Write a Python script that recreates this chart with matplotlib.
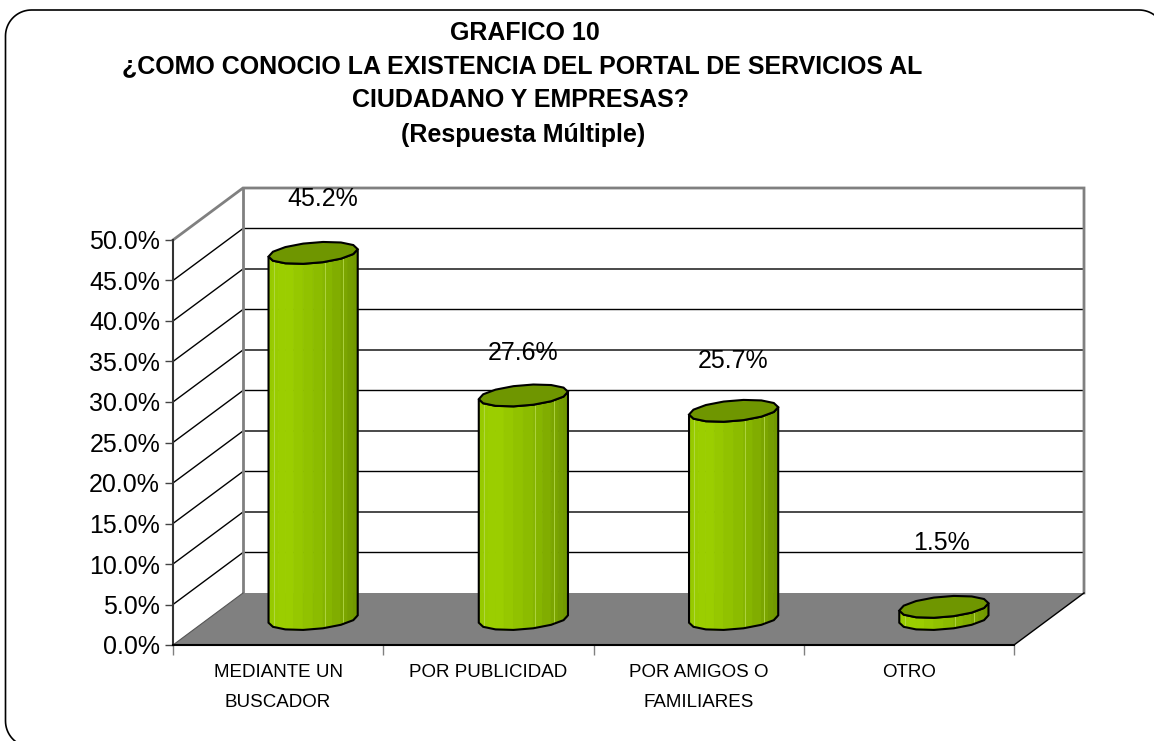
import numpy as np
import matplotlib
matplotlib.use('Agg')
import matplotlib.pyplot as plt
from matplotlib.colors import LinearSegmentedColormap
from matplotlib.lines import Line2D
from matplotlib.patches import Polygon

categories = ['MEDIANTE UN\nBUSCADOR', 'POR PUBLICIDAD', 'POR AMIGOS O\nFAMILIARES', 'OTRO']
values = [45.2, 27.6, 25.7, 1.5]
value_labels = ['45.2%', '27.6%', '25.7%', '1.5%']
label_heights = [55.1, 36.0, 35.1, 12.6]
label_cats = [0.71, 1.665, 2.663, 3.657]
y_ticks = [0, 5, 10, 15, 20, 25, 30, 35, 40, 45, 50]
title_lines = ['GRAFICO 10',
               '¿COMO CONOCIO LA EXISTENCIA DEL PORTAL DE SERVICIOS AL',
               'CIUDADANO Y EMPRESAS?',
               '(Respuesta Múltiple)']

W, H = 1154, 741
GRAY = '#808080'
TOP_GREEN = '#6F9600'
body_cmap = LinearSegmentedColormap.from_list(
    'body', ['#96C900', '#9DD000', '#93C400', '#8ABA00', '#7FAA00', '#6F9600'])

plt.rcParams['font.family'] = ['Liberation Sans', 'DejaVu Sans']

fig = plt.figure(figsize=(W / 100, H / 100), dpi=100, facecolor='white')
ax = fig.add_axes([173 / W, 1 - 645 / H, 841 / W, 405 / H])
ax.set_xlim(0, 4)
ax.set_ylim(0, 50)
ax.patch.set_visible(False)

# depth of the fake 3D box, in data units
DX = 70 / (841 / 4)
DY = 52 / (405 / 50)


def proj(cat, val, depth):
    return cat + depth * DX, val + depth * DY


# floor and walls
ax.add_patch(Polygon([proj(0, 0, 0), proj(4, 0, 0), proj(4, 0, 1), proj(0, 0, 1)],
                     fc=GRAY, ec='none', clip_on=False, zorder=1))
for t in y_ticks[1:-1]:
    ax.plot(*zip(proj(0, t, 0), proj(0, t, 1), proj(4, t, 1)), color='black', lw=1,
            clip_on=False, zorder=1.5)
ax.plot(*zip(proj(0, 50, 0), proj(0, 50, 1), proj(4, 50, 1), proj(4, 0, 1)), color=GRAY, lw=2,
        clip_on=False, zorder=1.6, solid_joinstyle='miter')
ax.plot(*zip(proj(0, 0, 1), proj(0, 50, 1)), color=GRAY, lw=2, clip_on=False, zorder=1.6)
ax.plot(*zip(proj(4, 0, 0), proj(4, 0, 1)), color='black', lw=1, clip_on=False, zorder=1.7)
ax.plot(*zip(proj(0, 0, 0), proj(0, 0, 1)), color='#555555', lw=0.8, clip_on=False, zorder=1.7)

# cylinders, drawn as low-poly tilted ellipses
AX_X, BX_X, BX_Y = 42 / (841 / 4), 15 / (841 / 4), 11 / (405 / 50)
N = 7
start = np.arctan2(BX_X, AX_X)
ring = np.linspace(start - np.pi, start + np.pi, 2 * N + 1)
fine = np.linspace(start - np.pi, start, 15)
stripes = [0.06, 0.63, 0.84]


def ellipse_pts(cx, cy, angles):
    return np.column_stack([cx + AX_X * np.cos(angles) + BX_X * np.sin(angles),
                            cy + BX_Y * np.sin(angles)])


for i, v in enumerate(values):
    cx, cy = proj(i + 0.5, 0, 0.5)
    low = ellipse_pts(cx, cy, ring)
    high = ellipse_pts(cx, cy + v, ring)
    # shading strips follow x position, finer than the outline
    low_f = ellipse_pts(cx, cy, fine)
    high_f = ellipse_pts(cx, cy + v, fine)
    x0, x1 = low_f[0, 0], low_f[-1, 0]
    for k in range(len(fine) - 1):
        quad = [low_f[k], low_f[k + 1], high_f[k + 1], high_f[k]]
        frac = (low_f[k, 0] + low_f[k + 1, 0]) / 2
        col = body_cmap((frac - x0) / (x1 - x0))
        ax.add_patch(Polygon(quad, fc=col, ec=col, lw=0.6, clip_on=False, zorder=3))
    for f in stripes:
        sx = x0 + f * (x1 - x0)
        sy = np.interp(sx, low_f[:, 0], low_f[:, 1])
        ax.plot([sx, sx], [sy, sy + v], color='#B4D84A', lw=0.6, clip_on=False, zorder=3.1)
    outline = np.vstack([low[:N + 1], high[:N + 1][::-1]])
    ax.add_patch(Polygon(outline, fc='none', ec='black', lw=1.5, clip_on=False, zorder=3.2))
    ax.add_patch(Polygon(high, fc=TOP_GREEN, ec='black', lw=1.5, clip_on=False, zorder=3.3))

for lab, c, h in zip(value_labels, label_cats, label_heights):
    ax.text(c, h, lab, ha='center', va='center', fontsize=18, color='black', clip_on=False, zorder=5)

# axes
for s in ['top', 'right']:
    ax.spines[s].set_visible(False)
ax.spines['left'].set_color('#333333')
ax.spines['left'].set_linewidth(1.5)
ax.spines['bottom'].set_color('black')
ax.spines['bottom'].set_linewidth(1.5)
ax.spines['left'].set_zorder(2)
ax.spines['bottom'].set_zorder(2)
ax.set_yticks(y_ticks)
ax.set_yticklabels(['%.1f%%' % t for t in y_ticks], fontsize=18)
ax.set_xticks(range(5))
ax.set_xticklabels([])
ax.set_xticks(np.arange(4) + 0.5, minor=True)
ax.set_xticklabels(categories, minor=True, fontsize=13.5, linespacing=1.95, va='top')
ax.tick_params(axis='x', which='major', length=7.2, width=1, color=GRAY)
ax.tick_params(axis='x', which='minor', length=0, pad=14)
ax.tick_params(axis='y', length=5.8, width=1, pad=3.5, color='#444444')
ax.get_xticklines()[0].set_color('black')

# title
for line, xp, yp in zip(title_lines, [525, 522, 521, 523], [33, 66, 100, 135]):
    fig.text(xp / W, 1 - yp / H, line, ha='center', va='center', fontsize=18, fontweight='bold')

# rounded frame, running off the right and bottom edges of the picture
R = 26
corner = np.linspace(0, np.pi / 2, 20)
frame_x = np.concatenate([31.5 - R * np.cos(corner[::-1]),
                          31.5 - R * np.cos(corner),
                          1139 + R * np.sin(corner)])
frame_y = np.concatenate([721 + R * np.sin(corner[::-1]),
                          36 - R * np.sin(corner),
                          36 - R * np.cos(corner)])
fig.add_artist(Line2D(frame_x / W, 1 - frame_y / H, transform=fig.transFigure, color='black', lw=1.2))

fig.savefig('out.png', dpi=100)
